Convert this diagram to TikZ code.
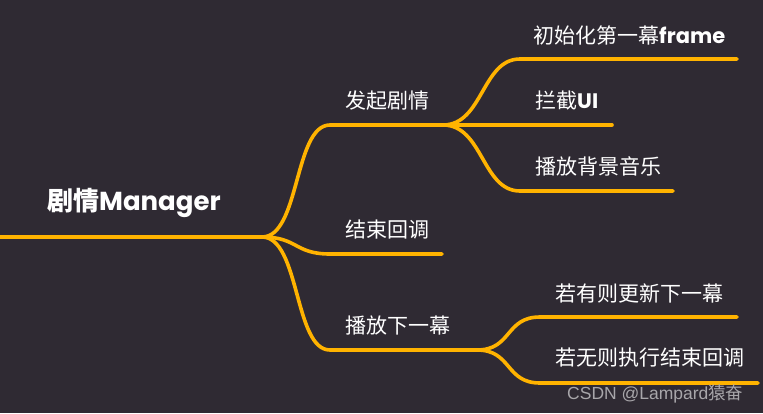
\documentclass[tikz,border=0pt]{standalone}
\usepackage{fontspec}
\setmainfont{Noto Sans CJK SC}
\newfontfamily\pop{Poppins}
\newfontfamily\lib{Liberation Sans}
\definecolor{bg}{HTML}{2F2A33}
\definecolor{br}{HTML}{FFB300}
\definecolor{wm}{HTML}{A8A6AA}
\tikzset{
  branch/.style={draw=br, line width=3.6pt, line cap=round},
  lbl/.style={anchor=west, inner sep=0pt, text=white, font=\fontsize{21}{25}\selectfont},
  rootlbl/.style={anchor=west, inner sep=0pt, text=white, font=\fontsize{26}{31}\selectfont\bfseries},
}
\begin{document}
\begin{tikzpicture}[x=1pt,y=-1pt]
\fill[bg] (0,0) rectangle (763,413);
\useasboundingbox (0,0) rectangle (763,413);
% coordinates
\coordinate (R0) at (0,237);
\coordinate (R) at (262,237);
\coordinate (A0) at (330,125);
\coordinate (A) at (443,125);
\coordinate (B0) at (330,254);
\coordinate (B1) at (442,254);
\coordinate (C0) at (330,350);
\coordinate (C) at (477,350);
\coordinate (A1a) at (520,59);
\coordinate (A1b) at (737,59);
\coordinate (A2b) at (612,125);
\coordinate (A3a) at (520,191);
\coordinate (A3b) at (673,191);
\coordinate (C1a) at (540,317);
\coordinate (C1b) at (737,317);
\coordinate (C2a) at (540,383);
\coordinate (C2b) at (758,383);
% connectors
\draw[branch] (R0) -- (R);
\draw[branch] (R) .. controls +(38,0) and +(-36,0) .. (A0) -- (A);
\draw[branch] (R) .. controls +(36,0) and +(-36,0) .. (B0) -- (B1);
\draw[branch] (R) .. controls +(38,0) and +(-36,0) .. (C0) -- (C);
\draw[branch] (A) .. controls +(40,0) and +(-38,0) .. (A1a) -- (A1b);
\draw[branch] (A) -- (A2b);
\draw[branch] (A) .. controls +(40,0) and +(-38,0) .. (A3a) -- (A3b);
\draw[branch] (C) .. controls +(35,0) and +(-35,0) .. (C1a) -- (C1b);
\draw[branch] (C) .. controls +(35,0) and +(-35,0) .. (C2a) -- (C2b);
% labels
\node[rootlbl] (root) at (47,203) {剧情{\pop Manager}};
\node[lbl] (a) at (345,101) {发起剧情};
\node[lbl] (b) at (345,230) {结束回调};
\node[lbl] (c) at (345,326) {播放下一幕};
\node[lbl] (a1) at (533,35) {初始化第一幕{\pop\bfseries frame}};
\node[lbl] (a2) at (535,101) {拦截{\pop\bfseries UI}};
\node[lbl] (a3) at (535,166) {播放背景音乐};
\node[lbl] (c1) at (555,293) {若有则更新下一幕};
\node[lbl] (c2) at (555,358) {若无则执行结束回调};
\node[anchor=west, inner sep=0pt, text=wm, font=\fontsize{17.5}{21}\selectfont] (wmk) at (567,394) {{\lib CSDN @Lampard}猿奋};
\end{tikzpicture}
\end{document}
